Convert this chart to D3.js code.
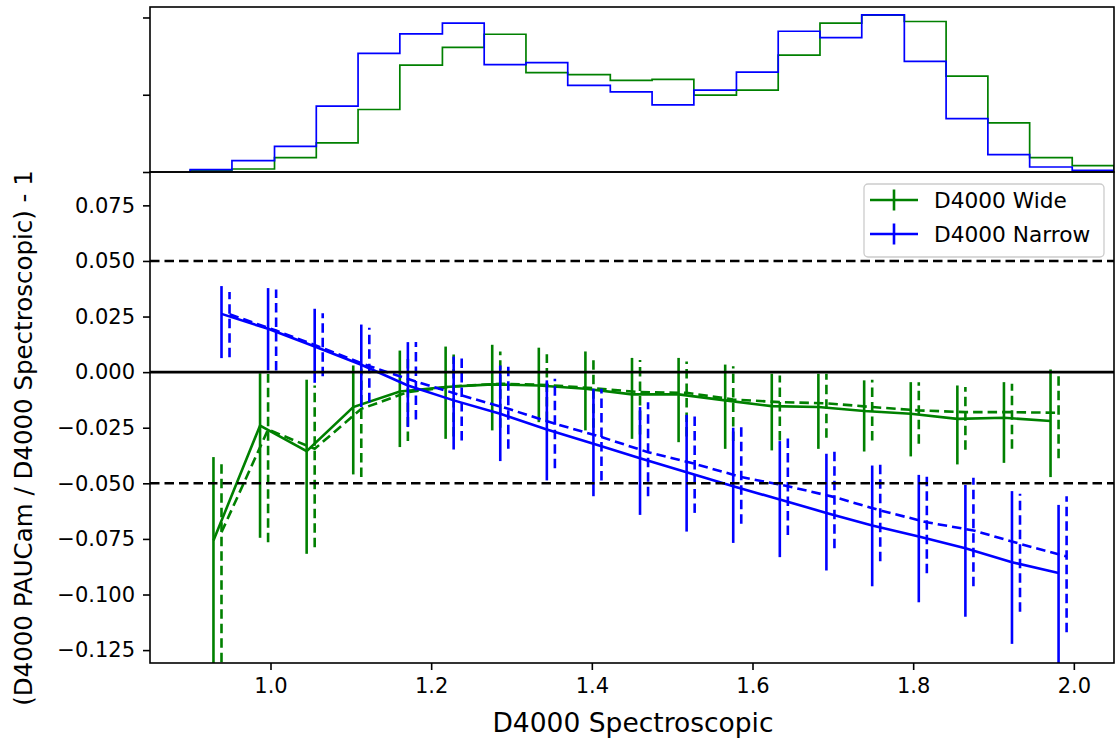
<!DOCTYPE html>
<html><head><meta charset="utf-8">
<script src="https://cdn.jsdelivr.net/npm/d3@7"></script>
<style>body{margin:0;background:#fff;} text{font-family:"DejaVu Sans",sans-serif;}</style>
</head><body><svg id="c" width="1116" height="738"></svg>
<script>
// ---------------- data ----------------
const binCenters = [0.929,0.987,1.045,1.103,1.161,1.218,1.276,1.334,1.392,1.450,1.508,1.566,1.624,1.682,1.739,1.797,1.855,1.913,1.971];

const wideSolidMid = [-0.0757,-0.0240,-0.0355,-0.0157,-0.0087,-0.0067,-0.0055,-0.0060,-0.0075,-0.0100,-0.0100,-0.0127,-0.0153,-0.0157,-0.0175,-0.0187,-0.0210,-0.0205,-0.0220];
const wideSolidLo  = [-0.1500,-0.0745,-0.0817,-0.0460,-0.0337,-0.0300,-0.0262,-0.0225,-0.0262,-0.0300,-0.0315,-0.0345,-0.0352,-0.0345,-0.0357,-0.0379,-0.0415,-0.0408,-0.0472];
const wideSolidHi  = [-0.0382,-0.0005,-0.0034,0.0030,0.0097,0.0115,0.0123,0.0110,0.0093,0.0064,0.0064,0.0034,-0.0007,-0.0007,-0.0037,-0.0045,-0.0060,-0.0045,0.0012];

const wideDashMid = [-0.0720,-0.0258,-0.0345,-0.0165,-0.0090,-0.0064,-0.0052,-0.0058,-0.0072,-0.0090,-0.0093,-0.0123,-0.0135,-0.0140,-0.0157,-0.0172,-0.0180,-0.0180,-0.0183];
const wideDashLo  = [-0.1500,-0.0765,-0.0787,-0.0472,-0.0310,-0.0290,-0.0250,-0.0220,-0.0250,-0.0280,-0.0290,-0.0310,-0.0307,-0.0295,-0.0307,-0.0322,-0.0349,-0.0345,-0.0387];
const wideDashHi  = [-0.0408,-0.0008,-0.0060,0.0015,0.0080,0.0090,0.0093,0.0080,0.0064,0.0055,0.0048,0.0027,-0.0015,-0.0007,-0.0034,-0.0045,-0.0067,-0.0052,-0.0007];

const narrowSolidMid = [0.0262,0.0195,0.0115,0.0033,-0.0060,-0.0127,-0.0187,-0.0258,-0.0322,-0.0387,-0.0450,-0.0513,-0.0573,-0.0633,-0.0690,-0.0739,-0.0792,-0.0855,-0.0903];
const narrowSolidLo  = [0.0063,0.0008,-0.0048,-0.0157,-0.0247,-0.0348,-0.0400,-0.0487,-0.0558,-0.0642,-0.0717,-0.0768,-0.0832,-0.0892,-0.0963,-0.1035,-0.1100,-0.1222,-0.1400];
const narrowSolidHi  = [0.0387,0.0378,0.0285,0.0214,0.0135,0.0070,0.0030,-0.0037,-0.0075,-0.0157,-0.0192,-0.0250,-0.0310,-0.0367,-0.0420,-0.0462,-0.0507,-0.0535,-0.0597];

const narrowDashMid = [0.0260,0.0187,0.0108,0.0027,-0.0042,-0.0105,-0.0165,-0.0232,-0.0292,-0.0360,-0.0412,-0.0472,-0.0513,-0.0562,-0.0622,-0.0675,-0.0712,-0.0772,-0.0829];
const narrowDashLo  = [0.0067,0.0007,-0.0018,-0.0135,-0.0213,-0.0307,-0.0345,-0.0432,-0.0487,-0.0558,-0.0633,-0.0682,-0.0732,-0.0792,-0.0850,-0.0904,-0.0963,-0.1077,-0.1170];
const narrowDashHi  = [0.0360,0.0372,0.0265,0.0200,0.0135,0.0063,0.0030,-0.0030,-0.0075,-0.0135,-0.0177,-0.0229,-0.0282,-0.0337,-0.0397,-0.0454,-0.0475,-0.0547,-0.0558];

const histEdges = [0.900,0.952,1.005,1.057,1.109,1.161,1.214,1.266,1.318,1.370,1.423,1.475,1.527,1.580,1.632,1.684,1.736,1.789,1.841,1.893,1.945,1.998,2.050];
const histWide   = [0.020,0.039,0.186,0.377,0.809,1.384,1.614,1.783,1.286,1.260,1.186,1.199,0.995,1.060,1.514,1.926,2.030,1.948,1.242,0.636,0.186,0.082];
const histNarrow = [0.030,0.147,0.332,0.852,1.536,1.787,1.926,1.390,1.416,1.121,1.036,0.870,1.060,1.294,1.822,1.740,2.034,1.432,0.692,0.225,0.065,0.021];

const xTicks = [1.0,1.2,1.4,1.6,1.8,2.0];
const yTicks = [-0.125,-0.100,-0.075,-0.050,-0.025,0.000,0.025,0.050,0.075];
const histTicks = [0,1,2];
const refLines = [0.05,-0.05];
const legendLabels = ["D4000 Wide","D4000 Narrow"];
const xLabel = "D4000 Spectroscopic";
const yLabel = "(D4000 PAUCam / D4000 Spectroscopic) - 1";

const series = [
  {color:"green", dashed:false, shift:0.00, mid:wideSolidMid, lo:wideSolidLo, hi:wideSolidHi},
  {color:"green", dashed:true,  shift:0.01, mid:wideDashMid,  lo:wideDashLo,  hi:wideDashHi},
  {color:"blue",  dashed:false, shift:0.01, mid:narrowSolidMid, lo:narrowSolidLo, hi:narrowSolidHi},
  {color:"blue",  dashed:true,  shift:0.02, mid:narrowDashMid,  lo:narrowDashLo,  hi:narrowDashHi}
];

// ---------------- layout ----------------
const L=150, R=1114, histTop=7, mainTop=172, mainBot=663;
const DASH="9.5,5";
const svg=d3.select("#c");
const x=d3.scaleLinear().domain([0.85,2.05]).range([L,R]);
const y=d3.scaleLinear().domain([-0.1308,0.09]).range([mainBot,mainTop]);
const hMax=d3.max(histWide.concat(histNarrow));
const yh=d3.scaleLinear().domain([0,hMax*1.05]).range([mainTop,histTop]);

const defs=svg.append("defs");
defs.append("clipPath").attr("id","clipMain").append("rect").attr("x",L).attr("y",mainTop).attr("width",R-L).attr("height",mainBot-mainTop);
defs.append("clipPath").attr("id","clipHist").append("rect").attr("x",L).attr("y",histTop).attr("width",R-L).attr("height",mainTop-histTop);

// ---------------- histogram panel ----------------
const gh=svg.append("g").attr("clip-path","url(#clipHist)");
function stepPts(vals){
  const pts=[[histEdges[0],0]];
  vals.forEach((v,i)=>{pts.push([histEdges[i],v]);pts.push([histEdges[i+1],v]);});
  pts.push([histEdges[histEdges.length-1],0]);
  return pts;
}
const hLine=d3.line().x(d=>x(d[0])).y(d=>yh(d[1]));
gh.append("path").attr("d",hLine(stepPts(histWide))).attr("fill","none").attr("stroke","green").attr("stroke-width",1.7);
gh.append("path").attr("d",hLine(stepPts(histNarrow))).attr("fill","none").attr("stroke","blue").attr("stroke-width",1.7);

const ayh=svg.append("g").attr("transform",`translate(${L},0)`).call(d3.axisLeft(yh).tickValues(histTicks).tickFormat("").tickSize(7));
ayh.select(".domain").remove();
ayh.selectAll(".tick line").attr("stroke","#000").attr("stroke-width",1.6);
svg.append("rect").attr("x",L).attr("y",histTop).attr("width",R-L).attr("height",mainTop-histTop).attr("fill","none").attr("stroke","#000").attr("stroke-width",1.6);

// ---------------- main panel ----------------
const gm=svg.append("g").attr("clip-path","url(#clipMain)");
const ln=d3.line().x(d=>x(d[0])).y(d=>y(d[1]));
series.forEach(s=>{
  const g=gm.append("g");
  const pts=binCenters.map((c,i)=>[c+s.shift,s.mid[i]]);
  g.append("path").attr("d",ln(pts)).attr("fill","none").attr("stroke",s.color).attr("stroke-width",2.6)
    .attr("stroke-dasharray",s.dashed?DASH:null);
  binCenters.forEach((c,i)=>{
    g.append("path").attr("d",ln([[c+s.shift,s.lo[i]],[c+s.shift,s.hi[i]]])).attr("fill","none")
      .attr("stroke",s.color).attr("stroke-width",2.6).attr("stroke-dasharray",s.dashed?DASH:null);
  });
});
gm.append("line").attr("x1",L).attr("x2",R).attr("y1",y(0)).attr("y2",y(0)).attr("stroke","#000").attr("stroke-width",2.6);
refLines.forEach(v=>{
  gm.append("line").attr("x1",L).attr("x2",R).attr("y1",y(v)).attr("y2",y(v)).attr("stroke","#000").attr("stroke-width",2.6).attr("stroke-dasharray",DASH);
});

const ax=svg.append("g").attr("transform",`translate(0,${mainBot})`).call(d3.axisBottom(x).tickValues(xTicks).tickFormat(d3.format(".1f")).tickSize(7).tickPadding(8));
const ay=svg.append("g").attr("transform",`translate(${L},0)`).call(d3.axisLeft(y).tickValues(yTicks).tickFormat(d3.format(".3f")).tickSize(7).tickPadding(8));
[ax,ay].forEach(a=>{
  a.select(".domain").remove();
  a.selectAll(".tick line").attr("stroke","#000").attr("stroke-width",1.6);
  a.selectAll(".tick text").attr("font-size",21).attr("font-family","DejaVu Sans").attr("fill","#000");
});
svg.append("rect").attr("x",L).attr("y",mainTop).attr("width",R-L).attr("height",mainBot-mainTop).attr("fill","none").attr("stroke","#000").attr("stroke-width",1.6);

// labels
svg.append("text").attr("x",(L+R)/2 + 1).attr("y",732).attr("text-anchor","middle").attr("font-size",26.5).attr("fill","#000").text(xLabel);
svg.append("text").attr("transform","translate(32,438) rotate(-90)").attr("text-anchor","middle").attr("font-size",24.5).attr("fill","#000").text(yLabel);

// ---------------- legend ----------------
const lg=svg.append("g");
lg.append("rect").attr("x",864).attr("y",184).attr("width",240).attr("height",73).attr("rx",4)
  .attr("fill","#fff").attr("fill-opacity",0.8).attr("stroke","#ccc").attr("stroke-width",1.3);
const legColors=["green","blue"];
legendLabels.forEach((t,i)=>{
  const cy=200+i*34;
  lg.append("line").attr("x1",870).attr("x2",918).attr("y1",cy).attr("y2",cy).attr("stroke",legColors[i]).attr("stroke-width",2.6);
  lg.append("line").attr("x1",894).attr("x2",894).attr("y1",cy-10.5).attr("y2",cy+10.5).attr("stroke",legColors[i]).attr("stroke-width",2.6);
  lg.append("text").attr("x",934).attr("y",cy+8).attr("font-size",21.7).attr("fill","#000").text(t);
});
</script></body></html>
